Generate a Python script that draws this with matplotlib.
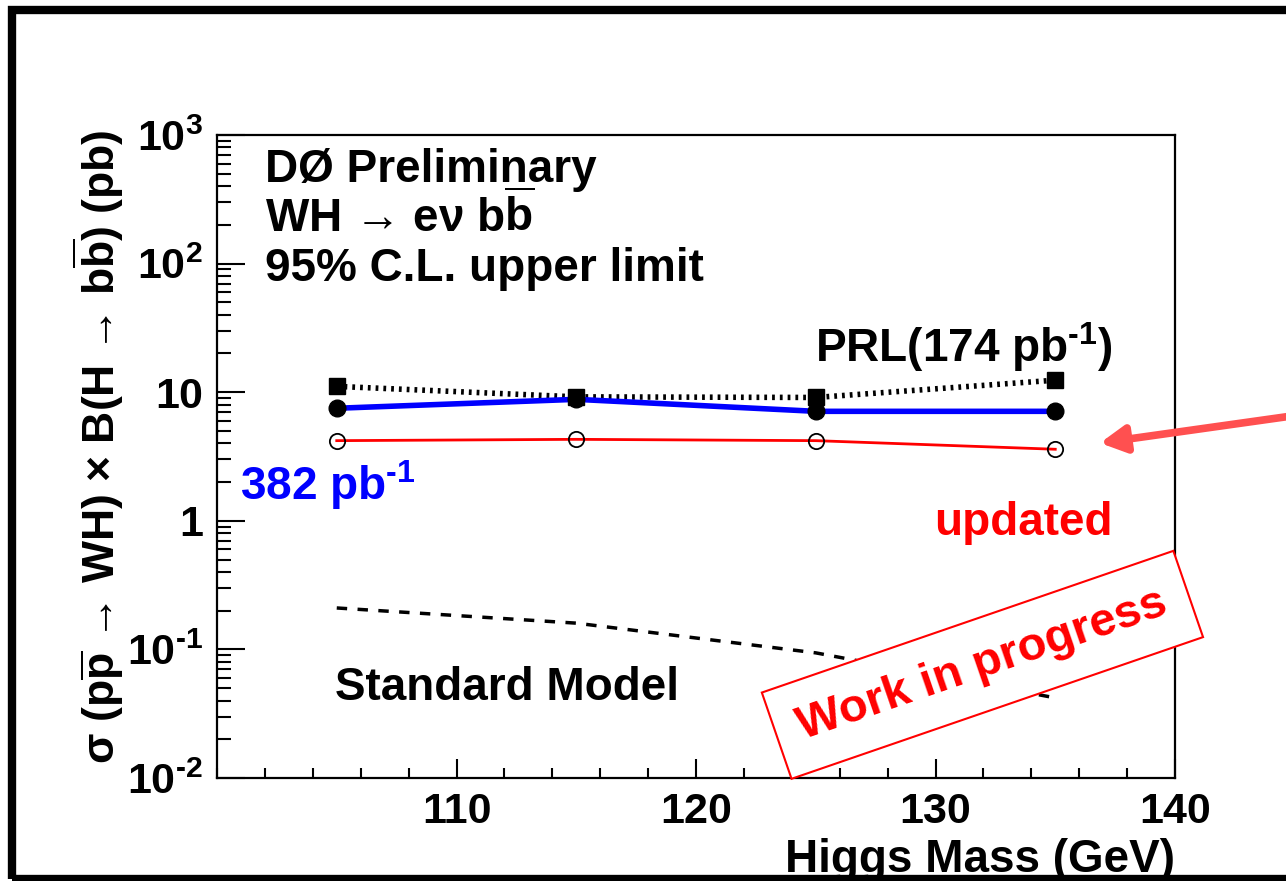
import matplotlib
matplotlib.use("Agg")
import matplotlib.pyplot as plt
import matplotlib.patches as patches
from matplotlib.ticker import FixedLocator, MultipleLocator, LogLocator, NullFormatter

plt.rcParams['font.family'] = ['Liberation Sans', 'DejaVu Sans']
plt.rcParams['font.weight'] = 'bold'
plt.rcParams['mathtext.fontset'] = 'custom'
plt.rcParams['mathtext.rm'] = 'Liberation Sans:bold'
plt.rcParams['mathtext.it'] = 'Liberation Sans:bold:italic'
plt.rcParams['mathtext.bf'] = 'Liberation Sans:bold'
plt.rcParams['mathtext.default'] = 'rm'

# Higgs masses and 95% CL limits (pb)
mass = [105, 115, 125, 135]
limit_prl = [11.1, 9.2, 9.1, 12.4]       # PRL, 174 pb^-1
limit_382 = [7.5, 8.8, 7.1, 7.1]         # 382 pb^-1
limit_updated = [4.2, 4.3, 4.2, 3.6]     # updated analysis
sm_xsec = [0.21, 0.16, 0.094, 0.042]     # Standard Model expectation

ytick_vals = [1e-2, 1e-1, 1, 10, 1e2, 1e3]
ytick_labels = ['$10^{\u2010 2}$', '$10^{\u2010 1}$', '1', '10', '$10^{2}$', '$10^{3}$']
xtick_vals = [110, 120, 130, 140]

fig = plt.figure(figsize=(12.86, 8.81), dpi=100)
ax = fig.add_axes([217 / 1286, 1 - 778 / 881, 958 / 1286, 643 / 881])

ax.plot(mass, limit_prl, color='black', lw=4, ls=(0, (0.5, 0.9)),
        marker='s', ms=11, mfc='black', mec='black', zorder=3)
ax.plot(mass, limit_382, color='#0000ff', lw=4, ls='-',
        marker='o', ms=12, mfc='black', mec='black', zorder=4)
ax.plot(mass, limit_updated, color='#ff0000', lw=2, ls='-',
        marker='o', ms=11, mfc='none', mec='black', mew=1.3, zorder=4)
ax.plot(mass, sm_xsec, color='black', lw=2.5, ls=(0, (3, 3)), zorder=3)

ax.set_yscale('log')
ax.set_xlim(100, 140)
ax.set_ylim(1e-2, 1e3)

ax.xaxis.set_major_locator(FixedLocator(xtick_vals))
ax.xaxis.set_minor_locator(MultipleLocator(2))
ax.yaxis.set_major_locator(FixedLocator(ytick_vals))
ax.set_yticklabels(ytick_labels)
ax.yaxis.set_minor_locator(LogLocator(base=10, subs=range(2, 10)))
ax.yaxis.set_minor_formatter(NullFormatter())

ax.tick_params(axis='both', which='both', direction='in', width=1.5,
               labelsize=31, top=False, right=False)
ax.tick_params(axis='y', which='major', length=20, pad=10)
ax.tick_params(axis='y', which='minor', length=10)
ax.tick_params(axis='x', which='major', length=14, pad=10)
ax.tick_params(axis='x', which='minor', length=7)
for sp in ax.spines.values():
    sp.set_linewidth(1.6)

ax.set_ylabel('σ (p$\\overline{\\rm p}$ → WH) × B(H → b$\\overline{\\rm b}$) (pb)',
              fontsize=32, fontweight='bold')
ax.yaxis.set_label_coords(-0.095, 0.515)
ax.set_xlabel('Higgs Mass (GeV)', fontsize=33, fontweight='bold', ha='right', va='baseline')
ax.xaxis.set_label_coords(1.0, -0.146)

# annotations
fs = 33
ax.text(0.050, 0.927, 'DØ Preliminary', transform=ax.transAxes, fontsize=fs)
ax.text(0.050, 0.849, 'WH → eν b$\\overline{\\rm b}$', transform=ax.transAxes, fontsize=fs)
ax.text(0.050, 0.773, '95% C.L. upper limit', transform=ax.transAxes, fontsize=fs)
ax.text(0.624, 0.647, 'PRL(174 pb$^{\u2010 1}$)', transform=ax.transAxes, fontsize=fs)
ax.text(0.024, 0.432, '382 pb$^{\u2010 1}$', transform=ax.transAxes, fontsize=fs, color='#0000ff')
ax.text(0.749, 0.378, 'updated', transform=ax.transAxes, fontsize=fs, color='#ff0000')
ax.text(0.123, 0.121, 'Standard Model', transform=ax.transAxes, fontsize=fs)
ax.text(0.799, 0.176, 'Work in progress', transform=ax.transAxes, fontsize=34,
        color='#ff0000', rotation=19, ha='center', va='center', rotation_mode='anchor',
        bbox=dict(boxstyle='square,pad=0.5', fc='white', ec='#ff0000', lw=1.5),
        zorder=6, clip_on=False)

# pointer towards the updated curve
ax.annotate('', xy=(1100 / 1286, 1 - 443 / 881), xytext=(1.01, 1 - 415 / 881),
            xycoords='figure fraction', textcoords='figure fraction',
            arrowprops=dict(arrowstyle='-|>,head_length=1.5,head_width=0.8',
                            color='#ff5050', lw=5.5, shrinkA=0, shrinkB=0))

# outer slide frame
frame = patches.Rectangle((12 / 1286, 2 / 881), 1.2, 1 - 10.5 / 881 - 2 / 881,
                          transform=fig.transFigure, fill=False, ec='black', lw=6,
                          zorder=10, clip_on=False)
fig.patches.append(frame)

fig.savefig('out.png', dpi=100)
